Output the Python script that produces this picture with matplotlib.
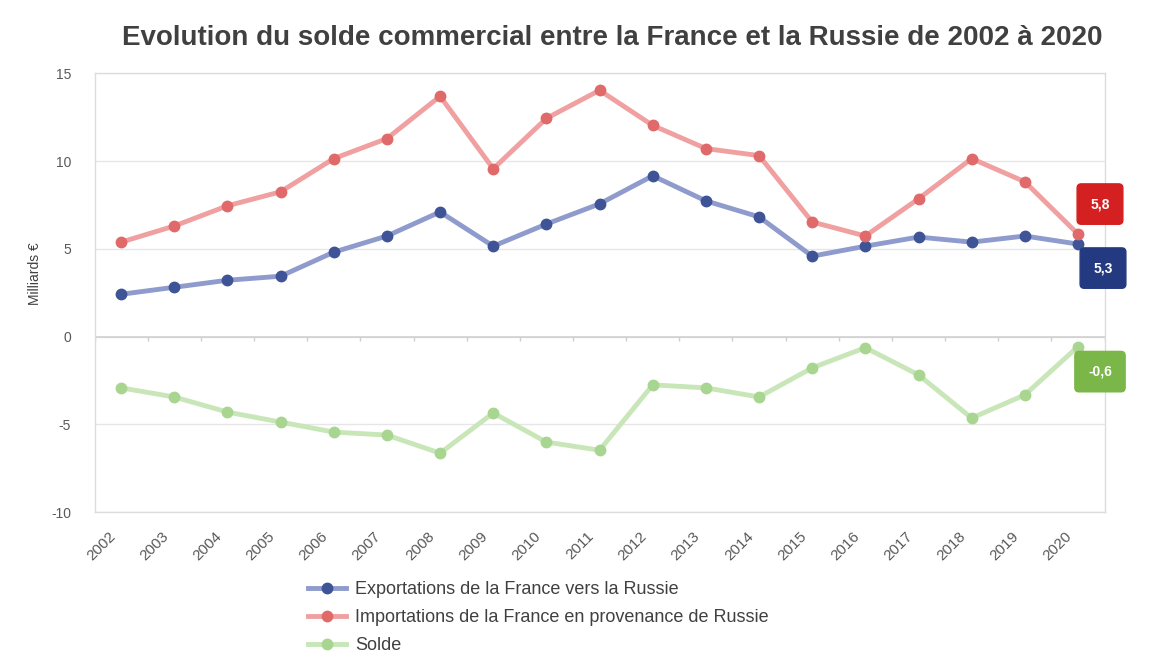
import matplotlib
matplotlib.use("Agg")
import matplotlib.pyplot as plt
import matplotlib.transforms as mtransforms
import numpy as np

# Commerce France–Russie, en milliards d'euros
years = ["2002", "2003", "2004", "2005", "2006", "2007", "2008", "2009", "2010", "2011",
         "2012", "2013", "2014", "2015", "2016", "2017", "2018", "2019", "2020"]
exportations = [2.41, 2.81, 3.21, 3.44, 4.81, 5.73, 7.10, 5.15, 6.41, 7.56,
                9.16, 7.73, 6.82, 4.58, 5.15, 5.67, 5.38, 5.73, 5.27]
importations = [5.38, 6.30, 7.45, 8.25, 10.14, 11.28, 13.69, 9.56, 12.43, 14.03,
                12.03, 10.71, 10.31, 6.53, 5.73, 7.85, 10.14, 8.82, 5.84]
solde = [-2.92, -3.44, -4.30, -4.87, -5.44, -5.61, -6.64, -4.35, -6.01, -6.47,
         -2.75, -2.92, -3.44, -1.78, -0.63, -2.18, -4.64, -3.32, -0.57]
y_ticks = [-10, -5, 0, 5, 10, 15]

series_names = ["Exportations de la France vers la Russie",
                "Importations de la France en provenance de Russie",
                "Solde"]

plt.rcParams["font.family"] = ["Liberation Sans", "DejaVu Sans"]

fig = plt.figure(figsize=(11.53, 6.66), dpi=100)
ax = fig.add_axes([0.082, 0.231, 0.876, 0.659])

x = np.arange(len(years))

styles = [
    (exportations, "#8e9bcc", "#3f5497", "#233a80"),
    (importations, "#f0a0a0", "#e06a6a", "#d42020"),
    (solde, "#c8e6b8", "#a8d690", "#7ab648"),
]
label_offsets = [(25, -24), (22, 30), (22, -25)]

handles = []
for (vals, lc, mc, boxc), name in zip(styles, series_names):
    h, = ax.plot(x, vals, color=lc, lw=3.5, marker="o", ms=7.5,
                 markerfacecolor=mc, markeredgecolor=mc, label=name,
                 solid_joinstyle="round", zorder=3)
    handles.append(h)

# étiquettes de fin de série
for (vals, lc, mc, boxc), (dx, dy) in zip(styles, label_offsets):
    ax.annotate(f"{vals[-1]:.1f}".replace(".", ","), xy=(x[-1], vals[-1]),
                xytext=(dx, dy), textcoords="offset pixels",
                ha="center", va="center", fontsize=10, fontweight="bold",
                color="white", zorder=5, annotation_clip=False,
                bbox=dict(boxstyle="round,pad=0.95,rounding_size=0.3",
                          fc=boxc, ec=boxc))

ax.set_xlim(-0.5, len(years) - 0.5)
ax.set_ylim(-10, 15)
ax.set_yticks(y_ticks)
ax.set_yticklabels([str(v) for v in y_ticks])
ax.set_xticks(x)
ax.set_xticklabels(years, rotation=45, ha="right", rotation_mode="anchor")
ax.tick_params(axis="x", length=0, pad=12, labelsize=11, labelcolor="#595959")
ax.tick_params(axis="y", length=0, pad=17, labelsize=10, labelcolor="#595959")

shift = mtransforms.ScaledTranslation(-13 / 100, 0, fig.dpi_scale_trans)
for lbl in ax.get_xticklabels():
    lbl.set_transform(lbl.get_transform() + shift)

ax.grid(axis="y", color="#e6e6e6", lw=1)
ax.set_axisbelow(True)
for s in ax.spines.values():
    s.set_color("#dcdcdc")
    s.set_linewidth(1)

# axe des catégories à zéro, avec graduations entre les années
ax.axhline(0, color="#d0d0d0", lw=1.2, zorder=1)
bounds = np.arange(len(years) + 1) - 0.5
ax.vlines(bounds, -0.25, 0, color="#d0d0d0", lw=1, zorder=1)

ax.set_ylabel("Milliards €", fontsize=10, color="#404040")
ax.yaxis.set_label_coords(-0.052, 0.544)

fig.text(0.531, 0.943,
         "Evolution du solde commercial entre la France et la Russie de 2002 à 2020",
         ha="center", va="center", fontsize=20, fontweight="bold", color="#404040")

fig.legend(handles=handles, labels=series_names, loc="upper left",
           bbox_to_anchor=(0.267, 0.127), frameon=False, fontsize=13,
           handlelength=2.1, handletextpad=0.5, labelspacing=0.6,
           borderpad=0, borderaxespad=0, labelcolor="#404040")

fig.savefig("out.png", dpi=100, facecolor="white")
